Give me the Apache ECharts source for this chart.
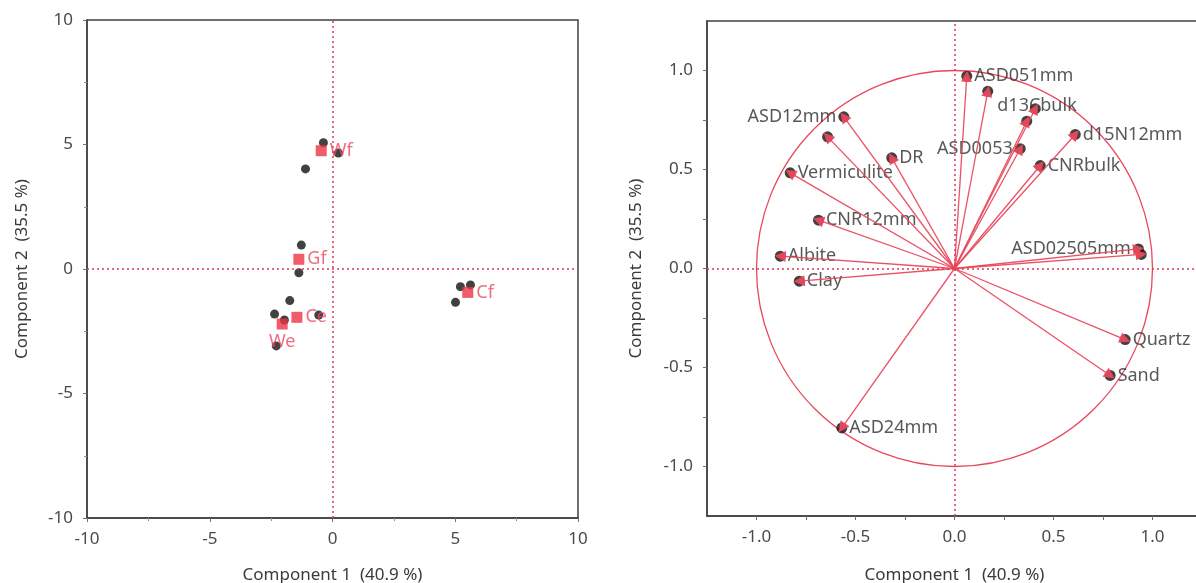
<!DOCTYPE html>
<html><head><meta charset="utf-8">
<script src="https://cdn.jsdelivr.net/npm/echarts@6/dist/echarts.min.js"></script>
<style>html,body{margin:0;padding:0;background:#fff}#c{width:1196px;height:583px}</style>
</head><body><div id="c"></div>
<script>
// ---- Score plot (left) ----
const groupNames = ['Wf', 'Gf', 'Ce', 'We', 'Cf'];
const groupX = [-0.46, -1.37, -1.45, -2.05, 5.51];
const groupY = [4.75, 0.39, -1.94, -2.21, -0.94];
const sampleX = [-0.37, -1.10, 0.24, -1.27, -1.37, -1.74, -2.36, -0.56, -1.96, -2.29, 5.21, 5.62, 5.01];
const sampleY = [5.07, 4.02, 4.66, 0.96, -0.15, -1.27, -1.81, -1.85, -2.05, -3.09, -0.71, -0.64, -1.34];
const scoreTicks = [-10, -5, 0, 5, 10];

// ---- Loading plot (right) ----
const loadNames = ['ASD051mm', 'd13Cbulk', '', '', 'ASD0053', 'd15N12mm', 'CNRbulk', 'ASD12mm', '', 'DR',
  'Vermiculite', 'CNR12mm', 'Albite', 'Clay', 'ASD02505mm', '', 'Quartz', 'Sand', 'ASD24mm'];
const loadX = [0.062, 0.168, 0.408, 0.365, 0.332, 0.610, 0.433, -0.559, -0.641, -0.317,
  -0.830, -0.687, -0.880, -0.784, 0.929, 0.943, 0.862, 0.786, -0.569];
const loadY = [0.971, 0.895, 0.807, 0.744, 0.605, 0.677, 0.520, 0.766, 0.665, 0.559,
  0.483, 0.244, 0.062, -0.064, 0.099, 0.071, -0.359, -0.540, -0.805];
const loadTicks = [-1.0, -0.5, 0.0, 0.5, 1.0];

const xTitle = 'Component 1  (40.9 %)';
const yTitle = 'Component 2  (35.5 %)';

const FONT = 'Noto Sans';
const RED = '#e8485c';
const ZERO = '#e03a52';

const chart = echarts.init(document.getElementById('c'));

function axisBase(extra) {
  return Object.assign({
    type: 'value',
    nameLocation: 'middle',
    nameTextStyle: { fontFamily: FONT, fontSize: 17, color: '#3a3a3a' },
    axisLine: { show: true, onZero: false, lineStyle: { color: '#404040', width: 1.5 } },
    axisTick: { show: true, inside: false, length: 4, lineStyle: { color: '#707070' } },
    splitLine: { show: false }
  }, extra);
}

const leftLabelPos = { We: 'bottom' };
const rightLabelPos = { ASD12mm: 'left', ASD0053: 'left', ASD02505mm: 'left' };
const rightLabelOffset = { d13Cbulk: [2, 15] };

const fmtLoad = v => {
  const m = loadTicks.find(t => Math.abs(t - v) < 1e-6);
  return m === undefined ? '' : m.toFixed(1);
};
const fmtScore = v => scoreTicks.indexOf(v) >= 0 ? String(v) : '';
const labelStyle = { fontFamily: FONT, fontSize: 17, color: '#4a4a4a' };

const zeroLines = {
  silent: true, symbol: ['none', 'none'], animation: false,
  label: { show: false },
  lineStyle: { color: ZERO, type: [2, 3], width: 1.5 },
  data: [{ xAxis: 0 }, { yAxis: 0 }]
};

const option = {
  animation: false,
  backgroundColor: '#ffffff',
  grid: [
    { left: 87, top: 20, width: 491, height: 498, outerBoundsMode: 'none', containLabel: false,
      show: true, borderColor: '#404040', borderWidth: 1.5, backgroundColor: 'transparent' },
    { left: 707, top: 21, width: 495, height: 495, outerBoundsMode: 'none', containLabel: false,
      show: true, borderColor: '#404040', borderWidth: 1.5, backgroundColor: 'transparent' }
  ],
  xAxis: [
    axisBase({ gridIndex: 0, min: -10, max: 10, interval: 5, name: xTitle, nameGap: 49,
      minorTick: { show: true, splitNumber: 2, length: 3, lineStyle: { color: '#909090' } },
      axisLabel: Object.assign({ margin: 13, formatter: fmtScore }, labelStyle) }),
    axisBase({ gridIndex: 1, min: -1.25, max: 1.25, interval: 0.25, name: xTitle, nameGap: 51,
      axisLabel: Object.assign({ margin: 13, formatter: fmtLoad, showMinLabel: false, showMaxLabel: false }, labelStyle) })
  ],
  yAxis: [
    axisBase({ gridIndex: 0, min: -10, max: 10, interval: 5, name: yTitle, nameGap: 56,
      minorTick: { show: true, splitNumber: 2, length: 3, lineStyle: { color: '#909090' } },
      axisLabel: Object.assign({ margin: 14, formatter: fmtScore }, labelStyle) }),
    axisBase({ gridIndex: 1, min: -1.25, max: 1.25, interval: 0.25, name: yTitle, nameGap: 62,
      axisLabel: Object.assign({ margin: 14, formatter: fmtLoad, showMinLabel: false, showMaxLabel: false }, labelStyle) })
  ],
  series: [
    {
      type: 'scatter', xAxisIndex: 0, yAxisIndex: 0, z: 2,
      symbol: 'circle', symbolSize: 9,
      itemStyle: { color: '#111111' },
      data: sampleX.map((x, i) => [x, sampleY[i]]),
      markLine: zeroLines
    },
    {
      type: 'scatter', xAxisIndex: 0, yAxisIndex: 0, z: 3,
      symbol: 'rect', symbolSize: 11,
      itemStyle: { color: '#ee3346' },
      data: groupX.map((x, i) => ({
        value: [x, groupY[i]], name: groupNames[i],
        label: { position: leftLabelPos[groupNames[i]] || 'right' }
      })),
      label: {
        show: true, formatter: p => p.name, distance: 3,
        fontFamily: FONT, fontSize: 18, color: '#e8485c'
      }
    },
    {
      type: 'scatter', xAxisIndex: 1, yAxisIndex: 1, z: 2,
      symbol: 'circle', symbolSize: 11,
      itemStyle: { color: '#111111' },
      data: loadX.map((x, i) => ({
        value: [x, loadY[i]], name: loadNames[i],
        label: {
          position: rightLabelPos[loadNames[i]] || 'right',
          offset: rightLabelOffset[loadNames[i]] || [0, 0]
        }
      })),
      label: {
        show: true, formatter: p => p.name, distance: 2,
        fontFamily: FONT, fontSize: 18, color: '#2e2e2e'
      },
      markLine: zeroLines
    },
    {
      type: 'lines', coordinateSystem: 'cartesian2d', xAxisIndex: 1, yAxisIndex: 1, z: 4,
      symbol: ['none', 'triangle'], symbolSize: 11,
      lineStyle: { color: RED, width: 1.3, opacity: 0.95 },
      itemStyle: { color: RED },
      data: loadX.map((x, i) => ({ coords: [[0, 0], [x, loadY[i]]] }))
    }
  ]
};
chart.setOption(option);

// unit correlation circle, placed through the loading plot's own scales
const c0 = chart.convertToPixel({ gridIndex: 1 }, [0, 0]);
const c1 = chart.convertToPixel({ gridIndex: 1 }, [1, 0]);
const c2 = chart.convertToPixel({ gridIndex: 1 }, [0, 1]);
const rx = c1[0] - c0[0];
const ry = c0[1] - c2[1];
chart.setOption({
  graphic: [{
    type: 'circle', silent: true, z: 1,
    shape: { cx: 0, cy: 0, r: rx },
    x: c0[0], y: c0[1], scaleY: ry / rx,
    style: { fill: 'none', stroke: RED, lineWidth: 1.3 }
  }]
});
</script>
</body></html>
